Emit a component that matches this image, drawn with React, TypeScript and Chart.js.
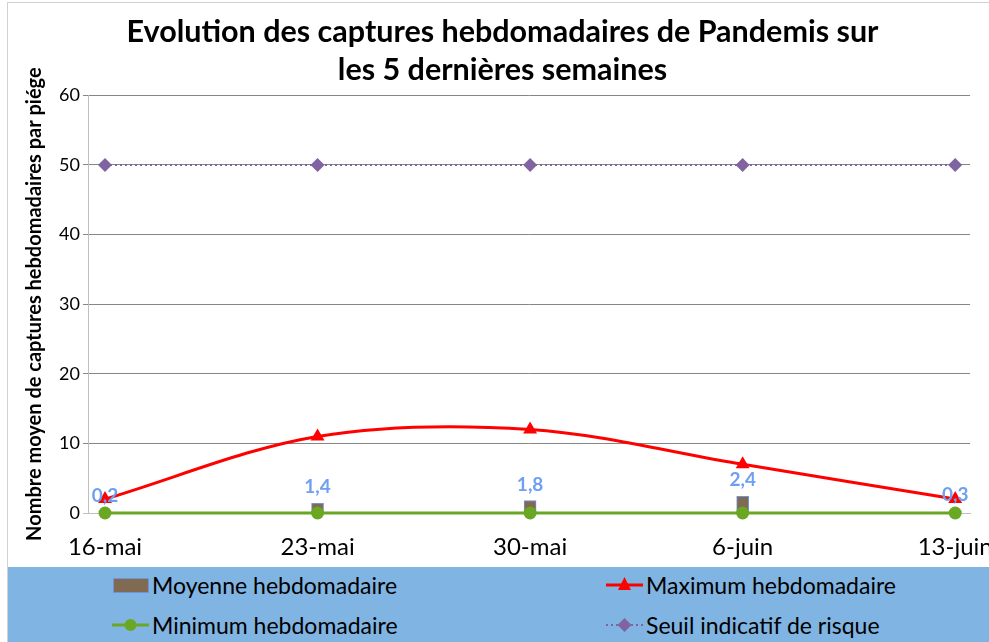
import React, { useEffect, useRef } from "react";
import { Chart, registerables } from "chart.js";

Chart.register(...registerables);

const categories = ["16-mai", "23-mai", "30-mai", "6-juin", "13-juin"];
const moyenne = [0.2, 1.4, 1.8, 2.4, 0.3];
const maximum = [2, 11, 12, 7, 2];
const minimum = [0, 0, 0, 0, 0];
const seuil = [50, 50, 50, 50, 50];
const yTicks = [0, 10, 20, 30, 40, 50, 60];
const titleLines = [
  "Evolution des captures hebdomadaires de Pandemis sur",
  "les 5 dernières semaines",
];
const yTitle = "Nombre moyen de captures hebdomadaires par piége";
const legendLabels = [
  "Moyenne hebdomadaire",
  "Maximum hebdomadaire",
  "Minimum hebdomadaire",
  "Seuil indicatif de risque",
];

const FONT = "Lato, 'Open Sans', sans-serif";
const BAR_FILL = "#806a52";
const BAR_BORDER = "#6f94dc";
const RED = "#ff0000";
const GREEN = "#6aa823";
const PURPLE = "#8064a2";
const LABEL_BLUE = "#6e9ff2";

const toXY = (arr: number[]) => arr.map((v, i) => ({ x: i, y: v }));

const barLabelPlugin = {
  id: "barLabels",
  afterDatasetsDraw(chart: any) {
    const meta = chart.getDatasetMeta(0);
    const ctx = chart.ctx;
    ctx.save();
    ctx.font = `bold 19px ${FONT}`;
    ctx.fillStyle = LABEL_BLUE;
    ctx.textAlign = "center";
    ctx.textBaseline = "middle";
    meta.data.forEach((el: any, i: number) => {
      const txt = String(moyenne[i]).replace(".", ",");
      ctx.fillText(txt, el.x, el.y - 16);
    });
    ctx.restore();
  },
};

function LegendSymbol({ kind }: { kind: number }) {
  if (kind === 0) {
    return (
      <svg width="40" height="24" style={{ display: "block" }}>
        <rect x="1.5" y="5.5" width="35" height="14" fill={BAR_FILL} stroke={BAR_BORDER} strokeWidth="1" />
      </svg>
    );
  }
  if (kind === 1) {
    return (
      <svg width="40" height="24" style={{ display: "block" }}>
        <line x1="0" y1="12" x2="37" y2="12" stroke={RED} strokeWidth="3" />
        <polygon points="18.5,4 25,17 12,17" fill={RED} />
      </svg>
    );
  }
  if (kind === 2) {
    return (
      <svg width="40" height="24" style={{ display: "block" }}>
        <line x1="0" y1="12" x2="37" y2="12" stroke={GREEN} strokeWidth="3" />
        <circle cx="18.5" cy="12" r="6" fill={GREEN} />
      </svg>
    );
  }
  return (
    <svg width="40" height="24" style={{ display: "block" }}>
      <line x1="0" y1="12" x2="37" y2="12" stroke={PURPLE} strokeWidth="2" strokeDasharray="2 3" />
      <polygon points="18.5,5 25.5,12 18.5,19 11.5,12" fill={PURPLE} />
    </svg>
  );
}

export default function App() {
  const canvasRef = useRef<HTMLCanvasElement | null>(null);

  useEffect(() => {
    document.body.style.margin = "0";
    document.body.style.overflow = "hidden";
    const canvas = canvasRef.current;
    if (!canvas) return;
    const chart = new Chart(canvas, {
      type: "bar",
      data: {
        datasets: [
          {
            type: "bar",
            label: legendLabels[0],
            data: toXY(moyenne),
            backgroundColor: BAR_FILL,
            borderColor: BAR_BORDER,
            borderWidth: 1,
            barThickness: 12,
            order: 4,
          } as any,
          {
            type: "line",
            label: legendLabels[1],
            data: toXY(maximum),
            borderColor: RED,
            backgroundColor: RED,
            borderWidth: 3,
            tension: 0.33,
            pointStyle: "triangle",
            pointRadius: 8,
            pointBorderWidth: 0,
            clip: false,
            order: 2,
          } as any,
          {
            type: "line",
            label: legendLabels[2],
            data: toXY(minimum),
            borderColor: GREEN,
            backgroundColor: GREEN,
            borderWidth: 3,
            pointStyle: "circle",
            pointRadius: 6.5,
            pointBorderWidth: 0,
            clip: false,
            order: 3,
          } as any,
          {
            type: "line",
            label: legendLabels[3],
            data: toXY(seuil),
            borderColor: PURPLE,
            backgroundColor: PURPLE,
            borderWidth: 2,
            borderDash: [2, 3],
            pointStyle: "rectRot",
            pointRadius: 7,
            pointBorderWidth: 0,
            clip: false,
            order: 1,
          } as any,
        ],
      },
      options: {
        animation: false,
        responsive: false,
        maintainAspectRatio: false,
        layout: { padding: { left: 0, right: 16, top: 0, bottom: 3 } },
        plugins: {
          legend: { display: false },
          tooltip: { enabled: false },
          title: {
            display: true,
            text: titleLines,
            color: "#000",
            font: { family: FONT, size: 30.5, weight: "bold", lineHeight: 1.25 },
            padding: { top: 10, bottom: 6 },
          },
        },
        scales: {
          x: {
            type: "linear",
            offset: false,
            min: -0.08,
            max: 4.07,
            afterBuildTicks: (scale: any) => {
              scale.ticks = categories.map((_, i) => ({ value: i }));
            },
            afterFit: (scale: any) => {
              scale.height = 49;
            },
            ticks: {
              color: "#000",
              font: { family: FONT, size: 24 },
              padding: 20,
              maxRotation: 0,
              autoSkip: false,
              callback: (v: any) => categories[v] ?? "",
            },
            grid: { display: false, drawTicks: false, offset: false },
            border: { display: true, color: "#bfbfbf", width: 1 },
          },
          y: {
            min: 0,
            max: 60,
            afterBuildTicks: (scale: any) => {
              scale.ticks = yTicks.map((v) => ({ value: v }));
            },
            afterFit: (scale: any) => {
              scale.width = 80;
            },
            ticks: {
              color: "#000",
              font: { family: FONT, size: 18 },
              padding: 3,
            },
            grid: {
              color: (c: any) => (c.tick && c.tick.value === 0 ? "#bfbfbf" : "#868686"),
              tickLength: 5,
              drawTicks: true,
            },
            border: { display: true, color: "#bfbfbf", width: 1 },
            title: {
              display: true,
              text: yTitle,
              color: "#000",
              font: { family: FONT, size: 20, weight: "bold", lineHeight: 1.2 },
              padding: { top: 15, bottom: 0 },
            },
          },
        },
      } as any,
      plugins: [barLabelPlugin],
    });
    return () => chart.destroy();
  }, []);

  const legendPos = [
    { left: 112, top: 573 },
    { left: 606, top: 573 },
    { left: 112, top: 613 },
    { left: 606, top: 613 },
  ];

  return (
    <div style={{ position: "relative", width: 989, height: 642, overflow: "hidden", background: "#fff" }}>
      <div style={{ position: "absolute", left: 7, top: 2, width: 1, height: 640, background: "#d0d0d0" }} />
      <div style={{ position: "absolute", left: 7, top: 2, width: 982, height: 1, background: "#d0d0d0" }} />
      <canvas
        ref={canvasRef}
        width={1005}
        height={562}
        style={{ position: "absolute", left: 8, top: 3, width: 1005, height: 562 }}
      />
      <div style={{ position: "absolute", left: 8, top: 567, width: 981, height: 75, background: "#80b4e2" }} />
      {legendLabels.map((lab, i) => (
        <div
          key={lab}
          style={{
            position: "absolute",
            left: legendPos[i].left,
            top: legendPos[i].top,
            height: 24,
            display: "flex",
            alignItems: "center",
            fontFamily: FONT,
            fontSize: 23,
            color: "#000",
            whiteSpace: "nowrap",
          }}
        >
          <LegendSymbol kind={i} />
          <span style={{ lineHeight: "24px" }}>{lab}</span>
        </div>
      ))}
    </div>
  );
}
